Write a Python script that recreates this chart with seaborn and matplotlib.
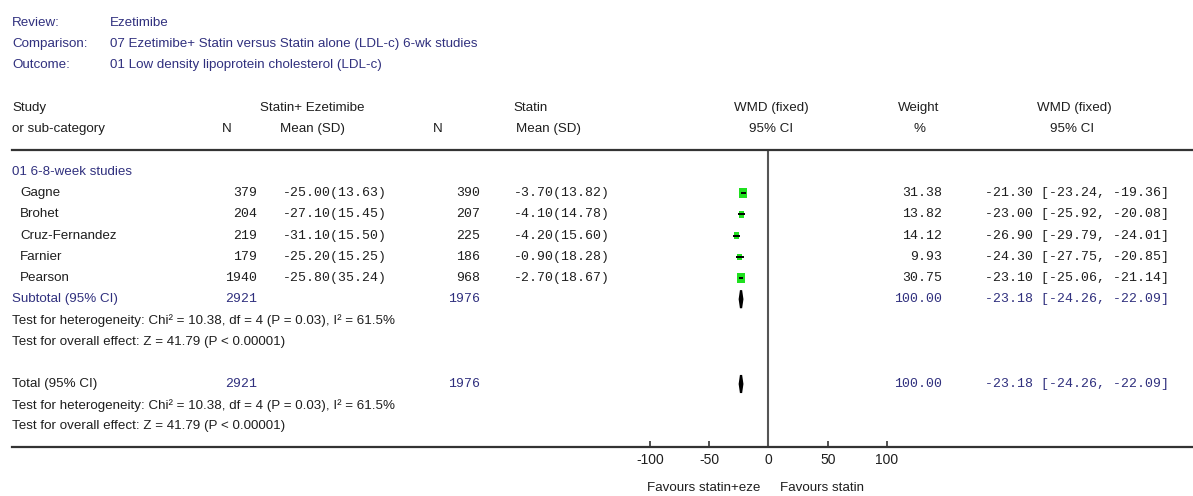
import matplotlib
matplotlib.use("Agg")
import matplotlib.pyplot as plt
import matplotlib.transforms as mtransforms
import numpy as np
import pandas as pd
import seaborn as sns

# ---- data -------------------------------------------------------------
studies = ["Gagne", "Brohet", "Cruz-Fernandez", "Farnier", "Pearson"]
n_eze = [379, 204, 219, 179, 1940]
mean_eze = [-25.00, -27.10, -31.10, -25.20, -25.80]
sd_eze = [13.63, 15.45, 15.50, 15.25, 35.24]
n_stat = [390, 207, 225, 186, 968]
mean_stat = [-3.70, -4.10, -4.20, -0.90, -2.70]
sd_stat = [13.82, 14.78, 15.60, 18.28, 18.67]
weight = [31.38, 13.82, 14.12, 9.93, 30.75]
wmd = [-21.30, -23.00, -26.90, -24.30, -23.10]
ci_lo = [-23.24, -25.92, -29.79, -27.75, -25.06]
ci_hi = [-19.36, -20.08, -24.01, -20.85, -21.14]

pooled = [-23.18]
pooled_lo = [-24.26]
pooled_hi = [-22.09]
total_n_eze = 2921
total_n_stat = 1976
total_weight = 100.00

het_text = "Test for heterogeneity: Chi\u00b2 = 10.38, df = 4 (P = 0.03), I\u00b2 = 61.5%"
eff_text = "Test for overall effect: Z = 41.79 (P < 0.00001)"

xticks = [-100, -50, 0, 50, 100]

# ---- style ------------------------------------------------------------
sns.set_theme(style="white")
SANS = ["Liberation Sans Narrow", "Liberation Sans", "DejaVu Sans"]
MONO = ["Liberation Mono", "DejaVu Sans Mono"]
plt.rcParams["font.family"] = SANS
NAVY = "#30307e"
INK = "#1e1e1e"
GREEN = "#1fe01f"
FS = 9.6
FM = 9.5

W, H = 1193, 496
fig = plt.figure(figsize=(W / 100, H / 100), dpi=100)

# full-figure overlay in pixel units for the table text
ov = fig.add_axes([0, 0, 1, 1])
ov.set_xlim(0, W)
ov.set_ylim(H, 0)
ov.axis("off")

# forest panel: spans from the left margin to the right edge, rule to rule
left_px, top_px, bot_px = 12, 150, 447
ax = fig.add_axes([left_px / W, (H - bot_px) / H, (W - left_px) / W, (bot_px - top_px) / H])
px_per_unit = (887 - 650) / 200.0
ax.set_xlim(-100 - (650 - left_px) / px_per_unit, 100 + (W - 887) / px_per_unit)
row0_px, row_h = 172, 21.2
ax.set_ylim((bot_px - row0_px) / row_h, (top_px - row0_px) / row_h)
ax.patch.set_alpha(0)

for side in ["left", "right"]:
    ax.spines[side].set_visible(False)
for side in ["top", "bottom"]:
    ax.spines[side].set_visible(True)
    ax.spines[side].set_color("#333333")
    ax.spines[side].set_linewidth(1.6)
ax.set_yticks([])
ax.set_xticks(xticks)
ax.set_xticklabels([str(t) for t in xticks], fontsize=10, color=INK)
ax.tick_params(axis="x", direction="in", length=4, width=1.2, color="#333333", pad=4,
               bottom=True, top=False)
ax.axvline(0, color="#555555", lw=1.5, zorder=1)

# row layout
study_rows = np.arange(1, 1 + len(studies))
sub_row = 6
total_row = 10

# study boxes (area proportional to weight) and confidence intervals
box = [(-0.38, -0.5), (0.38, -0.5), (0.38, 0.5), (-0.38, 0.5)]
df = pd.DataFrame({"wmd": wmd, "row": study_rows, "weight": weight,
                   "lo": ci_lo, "hi": ci_hi})
box_h_px = 1.85 * np.sqrt(df["weight"].to_numpy())
sns.scatterplot(data=df, x="wmd", y="row", marker=box, s=(box_h_px * 0.72) ** 2,
                color=GREEN, linewidth=0, ax=ax, legend=False, zorder=3)
ax.hlines(df["row"], df["lo"], df["hi"], color="black", lw=1.4, zorder=4)
ax.set_xlabel("")
ax.set_ylabel("")

# pooled diamonds
for r in [sub_row, total_row]:
    xs = [pooled_lo[0], pooled[0], pooled_hi[0], pooled[0]]
    ys = [r, r - 0.42, r, r + 0.42]
    ax.fill(xs, ys, facecolor="black", edgecolor="black", lw=1.6, zorder=4)

# ---- text -------------------------------------------------------------
def t(x, y, s, ha="left", color=INK, mono=False, trans=None, fs=None):
    ov.text(x, y, s, ha=ha, va="center", color=color,
            family=MONO if mono else SANS,
            fontsize=fs or (FM if mono else FS),
            transform=trans if trans is not None else ov.transData)

# review block
for y, lab, val in [(23, "Review:", "Ezetimibe"),
                    (44, "Comparison:", "07 Ezetimibe+ Statin versus Statin alone (LDL-c) 6-wk studies"),
                    (65, "Outcome:", "01 Low density lipoprotein cholesterol (LDL-c)")]:
    t(12, y, lab, color=NAVY)
    t(110, y, val, color=NAVY)

# column headers
h1, h2 = 108, 129
t(12, h1, "Study")
t(12, h2, "or sub-category")
t(312, h1, "Statin+ Ezetimibe", ha="center")
t(227, h2, "N", ha="center")
t(312, h2, "Mean (SD)", ha="center")
t(513, h1, "Statin")
t(438, h2, "N", ha="center")
t(516, h2, "Mean (SD)")
t(771, h1, "WMD (fixed)", ha="center")
t(771, h2, "95% CI", ha="center")
t(919, h1, "Weight", ha="center")
t(920, h2, "%", ha="center")
t(1074, h1, "WMD (fixed)", ha="center")
t(1072, h2, "95% CI", ha="center")

# table body: x in pixels, y in forest row units
tr = mtransforms.blended_transform_factory(ov.transData, ax.transData)

t(12, 0, "01 6-8-week studies", color=NAVY, trans=tr)
for i, r in enumerate(study_rows):
    t(20, r, studies[i], trans=tr)
    t(257, r, f"{n_eze[i]}", ha="right", mono=True, trans=tr)
    t(387, r, f"{mean_eze[i]:.2f}({sd_eze[i]:.2f})", ha="right", mono=True, trans=tr)
    t(480, r, f"{n_stat[i]}", ha="right", mono=True, trans=tr)
    t(514, r, f"{mean_stat[i]:.2f}({sd_stat[i]:.2f})", mono=True, trans=tr)
    t(942, r, f"{weight[i]:.2f}", ha="right", mono=True, trans=tr)
    t(985, r, f"{wmd[i]:.2f} [{ci_lo[i]:.2f}, {ci_hi[i]:.2f}]", mono=True, trans=tr)

for r, lab, lab_col in [(sub_row, "Subtotal (95% CI)", NAVY), (total_row, "Total (95% CI)", INK)]:
    t(12, r, lab, color=lab_col, trans=tr)
    t(257, r, f"{total_n_eze}", ha="right", mono=True, color=NAVY, trans=tr)
    t(480, r, f"{total_n_stat}", ha="right", mono=True, color=NAVY, trans=tr)
    t(942, r, f"{total_weight:.2f}", ha="right", mono=True, color=NAVY, trans=tr)
    t(985, r, f"{pooled[0]:.2f} [{pooled_lo[0]:.2f}, {pooled_hi[0]:.2f}]",
      mono=True, color=NAVY, trans=tr)
    t(12, r + 1, het_text, trans=tr)
    t(12, r + 2, eff_text, trans=tr)

# direction labels under the axis
t(760, 488, "Favours statin+eze", ha="right")
t(780, 488, "Favours statin")

fig.savefig("out.png", dpi=100, facecolor="white")
